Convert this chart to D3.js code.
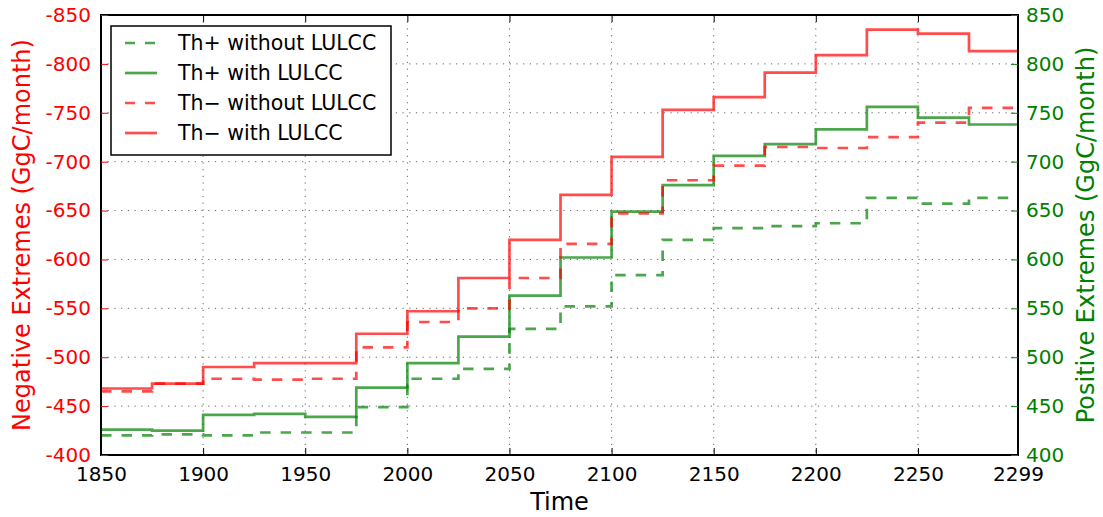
<!DOCTYPE html>
<html>
<head>
<meta charset="utf-8">
<script src="https://cdn.jsdelivr.net/npm/d3@7"></script>
<style>
  html, body { margin: 0; padding: 0; background: #fff; }
  svg { display: block; font-family: "DejaVu Sans", sans-serif; }
</style>
</head>
<body>
<svg id="chart" width="1103" height="517"></svg>
<script>
// ---- data ----
const years = [1850, 1875, 1900, 1925, 1950, 1975, 2000, 2025, 2050, 2075, 2100, 2125, 2150, 2175, 2200, 2225, 2250, 2275];
const endYear = 2299;
const thPlusWithout = [420, 421, 420, 423, 423, 449, 478, 488, 529, 552, 584, 620, 632, 634, 637, 663, 657, 663];
const thPlusWith    = [426, 425, 441, 442, 439, 469, 494, 521, 563, 602, 649, 676, 706, 718, 733, 756, 745, 738];
const thMinusWithout = [-465, -473, -478, -477, -478, -510, -536, -550, -581, -616, -647, -681, -696, -715, -714, -725, -740, -755];
const thMinusWith    = [-468, -473, -490, -494, -494, -524, -547, -581, -620, -666, -705, -753, -766, -791, -809, -835, -831, -813];
const xTicks = [1850, 1900, 1950, 2000, 2050, 2100, 2150, 2200, 2250, 2299];
const leftTicks = [-850, -800, -750, -700, -650, -600, -550, -500, -450, -400];
const rightTicks = [400, 450, 500, 550, 600, 650, 700, 750, 800, 850];
const seriesNames = ["Th+ without LULCC", "Th+ with LULCC", "Th\u2212 without LULCC", "Th\u2212 with LULCC"];

// ---- layout ----
const L = 101, R = 1018, T = 15, B = 455;
const svg = d3.select("#chart");
const RED = "#ff0000", GREEN = "#008000";

const x = d3.scaleLinear().domain([1850, endYear]).range([L, R]);
const yL = d3.scaleLinear().domain([-400, -850]).range([B, T]);
const yR = d3.scaleLinear().domain([400, 850]).range([B, T]);

// grid
const grid = svg.append("g");
xTicks.filter(t => t !== 1850 && t !== endYear).forEach(t => {
  grid.append("line").attr("x1", x(t)).attr("x2", x(t)).attr("y1", T).attr("y2", B)
    .attr("stroke", "#666").attr("stroke-width", 1).attr("stroke-dasharray", "1.2,5.5");
});
leftTicks.filter(t => t !== -850 && t !== -400).forEach(t => {
  grid.append("line").attr("x1", L).attr("x2", R).attr("y1", yL(t)).attr("y2", yL(t))
    .attr("stroke", "#666").attr("stroke-width", 1).attr("stroke-dasharray", "1.2,5.5");
});

// lines
function pts(vals) {
  const p = vals.map((v, i) => [years[i], v]);
  p.push([endYear, vals[vals.length - 1]]);
  return p;
}
const lineL = d3.line().x(d => x(d[0])).y(d => yL(d[1])).curve(d3.curveStepAfter);
const lineR = d3.line().x(d => x(d[0])).y(d => yR(d[1])).curve(d3.curveStepAfter);
const series = [
  { vals: thPlusWithout, gen: lineR, color: GREEN, dash: "10.5,10" },
  { vals: thPlusWith, gen: lineR, color: GREEN, dash: null },
  { vals: thMinusWithout, gen: lineL, color: RED, dash: "10.5,10" },
  { vals: thMinusWith, gen: lineL, color: RED, dash: null },
];
const clip = svg.append("clipPath").attr("id", "clip").append("rect")
  .attr("x", L).attr("y", T).attr("width", R - L).attr("height", B - T);
const gl = svg.append("g").attr("clip-path", "url(#clip)");
series.forEach(s => {
  gl.append("path").attr("d", s.gen(pts(s.vals)))
    .attr("fill", "none").attr("stroke", s.color).attr("stroke-opacity", 0.7)
    .attr("stroke-width", 2.7).attr("stroke-dasharray", s.dash);
});

// frame
svg.append("rect").attr("x", L).attr("y", T).attr("width", R - L).attr("height", B - T)
  .attr("fill", "none").attr("stroke", "#000").attr("stroke-width", 2);

// axes
const tickLen = 7;
const xb = svg.append("g").attr("transform", `translate(0,${B})`)
  .call(d3.axisBottom(x).tickValues(xTicks).tickFormat(d3.format("d")).tickSizeInner(-tickLen).tickSizeOuter(0).tickPadding(12));
const xt = svg.append("g").attr("transform", `translate(0,${T})`)
  .call(d3.axisTop(x).tickValues(xTicks).tickFormat("").tickSizeInner(-tickLen).tickSizeOuter(0));
const yl = svg.append("g").attr("transform", `translate(${L},0)`)
  .call(d3.axisLeft(yL).tickValues(leftTicks).tickFormat(d => String(d)).tickSizeInner(-tickLen).tickSizeOuter(0).tickPadding(10));
const yr = svg.append("g").attr("transform", `translate(${R},0)`)
  .call(d3.axisRight(yR).tickValues(rightTicks).tickFormat(d3.format("d")).tickSizeInner(-tickLen).tickSizeOuter(0).tickPadding(8));
[xb, xt, yl, yr].forEach(g => g.select(".domain").remove());
[xb, xt].forEach(g => g.selectAll(".tick line").attr("stroke", "#000").attr("stroke-width", 1));
xb.selectAll(".tick text").attr("font-size", 20).attr("font-family", "DejaVu Sans").attr("fill", "#000");
yl.selectAll(".tick line").attr("stroke", RED).attr("stroke-width", 1);
yl.selectAll(".tick text").attr("font-size", 20).attr("font-family", "DejaVu Sans").attr("fill", RED);
yr.selectAll(".tick line").attr("stroke", GREEN).attr("stroke-width", 1);
yr.selectAll(".tick text").attr("font-size", 20).attr("font-family", "DejaVu Sans").attr("fill", GREEN);

// axis labels
svg.append("text").attr("x", (L + R) / 2).attr("y", 510).attr("text-anchor", "middle")
  .attr("font-size", 24).attr("fill", "#000").text("Time");
svg.append("text").attr("transform", `translate(30,${(T + B) / 2}) rotate(-90)`).attr("text-anchor", "middle")
  .attr("font-size", 24).attr("fill", RED).text("Negative Extremes (GgC/month)");
svg.append("text").attr("transform", `translate(1094,${(T + B) / 2}) rotate(-90)`).attr("text-anchor", "middle")
  .attr("font-size", 24).attr("fill", GREEN).text("Positive Extremes (GgC/month)");

// legend
const lg = svg.append("g");
lg.append("rect").attr("x", 111).attr("y", 26).attr("width", 280).attr("height", 129)
  .attr("fill", "#fff").attr("stroke", "#000").attr("stroke-width", 1.5);
series.forEach((s, i) => {
  const yy = 43 + i * 30;
  lg.append("line").attr("x1", 125).attr("x2", 157).attr("y1", yy).attr("y2", yy)
    .attr("stroke", s.color).attr("stroke-opacity", 0.7).attr("stroke-width", 2.7)
    .attr("stroke-dasharray", s.dash ? "10,10" : null);
  lg.append("text").attr("x", 178).attr("y", yy).attr("dy", "0.36em")
    .attr("font-size", 20.5).attr("fill", "#000").text(seriesNames[i]);
});
</script>
</body>
</html>
